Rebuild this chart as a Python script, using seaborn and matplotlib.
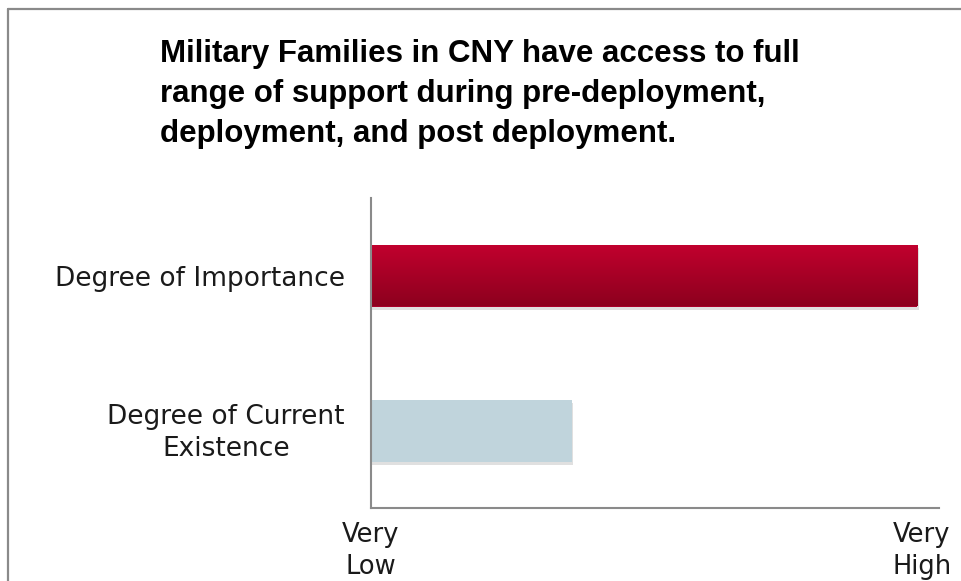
import numpy as np
import pandas as pd
import matplotlib
matplotlib.use("Agg")
import matplotlib.pyplot as plt
import matplotlib.patheffects as pe
from matplotlib.lines import Line2D
from matplotlib.colors import LinearSegmentedColormap
from matplotlib.transforms import ScaledTranslation
import seaborn as sns

# Chart content
title = ("Military Families in CNY have access to full\n"
         "range of support during pre-deployment,\n"
         "deployment, and post deployment.")
categories = ["Degree of Importance", "Degree of Current\nExistence"]
scores = [4.81, 1.77]
scale_ticks = [0, 1, 2, 3, 4, 5]
scale_labels = ["Very\nLow", "", "", "", "", "Very\nHigh"]

bar_colors = ["#a8002a", "#c0d4dc"]
red_top, red_bottom = "#c2002e", "#8c001e"
axis_gray = "#8a8a8a"
text_color = "#1a1a1a"

sns.set_style("white")
plt.rcParams["font.family"] = ["DejaVu Sans"]

W, H = 961, 581
fig = plt.figure(figsize=(W / 100, H / 100), dpi=100)
ax = fig.add_axes([371 / W, 73 / H, 568 / W, 310 / H])

df = pd.DataFrame({"category": categories, "score": scores})
sns.barplot(data=df, x="score", y="category", hue="category",
            palette=bar_colors, saturation=1, width=0.4, legend=False,
            ax=ax, linewidth=0)

ax.set_xlim(0, 5)
ax.set_xticks(scale_ticks)
ax.set_xticklabels(scale_labels, fontsize=18.5, color=text_color, linespacing=1.3)
ax.set_xlabel("")
ax.set_ylabel("")
ax.tick_params(axis="x", direction="out", length=8, width=1.5, color=axis_gray, pad=2)
ax.tick_params(axis="y", length=0, pad=19, labelsize=19, labelcolor=text_color)
for lbl in ax.get_yticklabels():
    lbl.set_multialignment("center")
    if "\n" in lbl.get_text():
        lbl.set_linespacing(1.35)
        lbl.set_transform(lbl.get_transform() + ScaledTranslation(0, 4 / 100, fig.dpi_scale_trans))

for side in ["top", "right"]:
    ax.spines[side].set_visible(False)
for side in ["left", "bottom"]:
    ax.spines[side].set_color(axis_gray)
    ax.spines[side].set_linewidth(1.5)

# Soft drop shadow under each bar, gradient fill on the importance bar
red_cmap = LinearSegmentedColormap.from_list("redgrad", [red_top, red_bottom])
for i, bar in enumerate(ax.patches):
    bar.set_path_effects([pe.SimplePatchShadow(offset=(0.8, -2.5),
                                               shadow_rgbFace="#999999", alpha=0.3),
                          pe.Normal()])
    if i == 0:
        x0, y0 = bar.get_x(), bar.get_y()
        w, h = bar.get_width(), bar.get_height()
        grad = np.linspace(0, 1, 256).reshape(-1, 1)
        im = ax.imshow(grad, cmap=red_cmap, aspect="auto",
                       extent=[x0, x0 + w, y0 + h, y0], origin="upper",
                       zorder=bar.get_zorder() + 0.1, interpolation="bilinear")
        im.set_clip_path(bar)
ax.set_xlim(0, 5)
ax.set_ylim(1.5, -0.5)

# Right end label nudged inward so it stays inside the frame
for lbl in ax.get_xticklabels():
    if lbl.get_text().endswith("High"):
        lbl.set_transform(lbl.get_transform() + ScaledTranslation(-17 / 100, 0, fig.dpi_scale_trans))

fig.text(160 / W, 1 - 39 / H, title, ha="left", va="top", fontsize=22.5,
         fontweight="bold", family="Liberation Sans", linespacing=1.43, color="#000000")

# Outer frame: top and left edges
fig.add_artist(Line2D([8 / W, 1.0], [1 - 9 / H, 1 - 9 / H], color=axis_gray, lw=1.6,
                      transform=fig.transFigure))
fig.add_artist(Line2D([8 / W, 8 / W], [1 - 9 / H, 0.0], color=axis_gray, lw=1.6,
                      transform=fig.transFigure))

fig.savefig("out.png", dpi=100)
